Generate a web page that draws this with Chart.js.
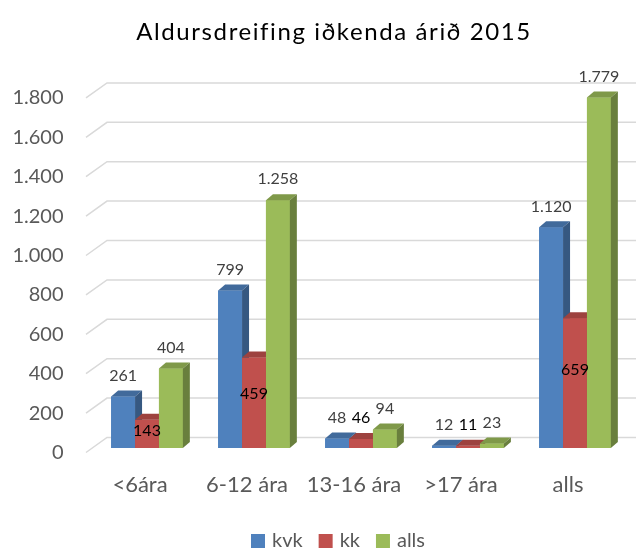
<!DOCTYPE html>
<html>
<head>
<meta charset="utf-8">
<script src="https://cdn.jsdelivr.net/npm/chart.js@4"></script>
<style>
  html, body { margin: 0; padding: 0; background: #fff; }
  #wrap { width: 636px; height: 551px; }
</style>
</head>
<body>
<div id="wrap"><canvas id="chart" width="636" height="551"></canvas></div>
<script>
'use strict';

// ===== データ =====
const CATEGORIES = ['<6ára', '6-12 ára', '13-16 ára', '>17 ára', 'alls'];
const KVK  = [261, 799, 48, 12, 1120];
const KK   = [143, 459, 46, 11, 659];
const ALLS = [404, 1258, 94, 23, 1779];
const SERIES_NAMES = ['kvk', 'kk', 'alls'];
const Y_MAX  = 1800;
const Y_STEP = 200;
const TITLE  = 'Aldursdreifing iðkenda árið 2015';

const COLORS = ['#4F81BD', '#C0504D', '#9BBB59'];
const FONT   = 'Lato, "Open Sans", sans-serif';

// 3D の奥行き
const BAR_DX = 7, BAR_DY = 6;

const fmt = n => String(n).replace(/\B(?=(\d{3})+(?!\d))/g, '.');

function shade(hex, f) {
    const n = parseInt(hex.slice(1), 16);
    const r = Math.round(((n >> 16) & 255) * f);
    const g = Math.round(((n >> 8) & 255) * f);
    const b = Math.round((n & 255) * f);
    return `rgb(${r},${g},${b})`;
}

// ===== 背面グリッド =====
const backGrid = {
    id: 'backGrid',
    beforeDatasetsDraw(chart) {
        const { ctx, chartArea, scales: { y } } = chart;
        ctx.save();
        ctx.strokeStyle = '#D9D9D9';
        ctx.lineWidth = 1.5;
        for (let v = 0; v <= Y_MAX; v += Y_STEP) {
            const py = y.getPixelForValue(v);
            ctx.beginPath();
            ctx.moveTo(chartArea.left - 7.5, py + 4.5);
            ctx.lineTo(chartArea.left + 13.5, py - 10.5);
            ctx.lineTo(chart.width, py - 10.5);
            ctx.stroke();
        }
        ctx.restore();
    },
};

// ===== 3D 棒 + ラベル =====
const bars3d = {
    id: 'bars3d',
    afterDatasetsDraw(chart) {
        const { ctx, scales: { y } } = chart;
        const metas = chart.data.datasets.map((_, i) => chart.getDatasetMeta(i));
        ctx.save();
        CATEGORIES.forEach((_, ci) => {
            metas.forEach((meta, di) => {
                const bar = meta.data[ci];
                const color = COLORS[di];
                const l = bar.x - bar.width / 2;
                const r = bar.x + bar.width / 2;
                const top = bar.y, base = bar.base;
                ctx.fillStyle = color;
                ctx.fillRect(l, top, r - l, base - top);
                // top face
                ctx.fillStyle = shade(color, 0.82);
                ctx.beginPath();
                ctx.moveTo(l, top);
                ctx.lineTo(l + BAR_DX, top - BAR_DY);
                ctx.lineTo(r + BAR_DX, top - BAR_DY);
                ctx.lineTo(r, top);
                ctx.closePath();
                ctx.fill();
                // side face
                ctx.fillStyle = shade(color, 0.68);
                ctx.beginPath();
                ctx.moveTo(r, top);
                ctx.lineTo(r + BAR_DX, top - BAR_DY);
                ctx.lineTo(r + BAR_DX, base - BAR_DY);
                ctx.lineTo(r, base);
                ctx.closePath();
                ctx.fill();
            });
        });

        // データラベル
        ctx.font = `16px ${FONT}`;
        ctx.textAlign = 'center';
        ctx.textBaseline = 'middle';
        metas.forEach((meta, di) => {
            const values = chart.data.datasets[di].data;
            meta.data.forEach((bar, i) => {
                const v = values[i];
                let ly = bar.y - 21;
                ctx.fillStyle = '#404040';
                if (di === 1) {
                    ctx.fillStyle = '#000';
                    if (v >= 100) ly = y.getPixelForValue(v * 0.6);
                }
                ctx.fillText(fmt(v), bar.x, ly);
            });
        });
        ctx.restore();
    },
    afterDraw(chart) {
        const { ctx } = chart;
        ctx.save();
        // タイトル
        ctx.fillStyle = '#000';
        ctx.font = `24px ${FONT}`;
        if ('letterSpacing' in ctx) ctx.letterSpacing = '1.6px';
        ctx.textAlign = 'center';
        ctx.textBaseline = 'middle';
        ctx.fillText(TITLE, 334, 32);
        if ('letterSpacing' in ctx) ctx.letterSpacing = '0px';

        // 凡例
        ctx.font = `20px ${FONT}`;
        ctx.textAlign = 'left';
        let x = 251;
        SERIES_NAMES.forEach((name, i) => {
            ctx.fillStyle = COLORS[i];
            ctx.fillRect(x, 534, 14, 14);
            ctx.fillStyle = '#595959';
            ctx.fillText(name, x + 21, 541);
            x += 21 + ctx.measureText(name).width + 16;
        });
        ctx.restore();
    },
};

const datasets = [KVK, KK, ALLS].map((data, i) => ({
    label: SERIES_NAMES[i],
    data,
    backgroundColor: COLORS[i],
    borderWidth: 0,
}));

new Chart(document.getElementById('chart'), {
    type: 'bar',
    data: { labels: CATEGORIES, datasets },
    options: {
        responsive: false,
        devicePixelRatio: 1,
        animation: false,
        layout: { padding: { top: 93.4, right: 7.5, left: 0, bottom: 0 } },
        datasets: { bar: { categoryPercentage: 0.67, barPercentage: 1 } },
        plugins: {
            legend: { display: false },
            title: { display: false },
            tooltip: { enabled: false },
        },
        scales: {
            x: {
                grid: { display: false, drawTicks: false },
                border: { display: false },
                ticks: { color: '#595959', font: { family: FONT, size: 22 }, padding: 24, labelOffset: -7 },
                afterFit: s => { s.height = 103; },
            },
            y: {
                min: 0,
                max: Y_MAX,
                grid: { display: false, drawTicks: false },
                border: { display: false },
                ticks: {
                    stepSize: Y_STEP,
                    color: '#595959',
                    font: { family: FONT, size: 20 },
                    padding: 30,
                    labelOffset: 4.5,
                    callback: v => fmt(v),
                },
                afterFit: s => { s.width = 93.5; },
            },
        },
    },
    plugins: [backGrid, bars3d],
});
</script>
</body>
</html>
